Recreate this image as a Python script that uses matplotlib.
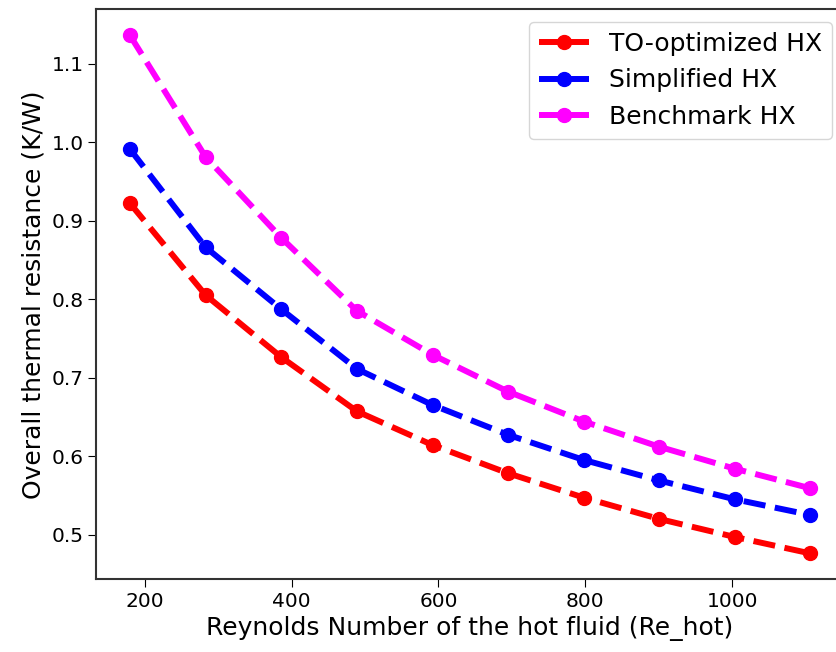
import matplotlib
matplotlib.use('Agg')
import matplotlib.pyplot as plt

# Reynolds number of the hot fluid
re_hot = [180, 283, 386, 489, 592, 695, 798, 900, 1003, 1106]

# Overall thermal resistance (K/W)
r_to_opt = [0.922, 0.805, 0.726, 0.657, 0.614, 0.578, 0.547, 0.520, 0.497, 0.476]
r_simplified = [0.991, 0.866, 0.787, 0.711, 0.665, 0.627, 0.595, 0.569, 0.545, 0.525]
r_benchmark = [1.136, 0.981, 0.878, 0.785, 0.729, 0.682, 0.644, 0.612, 0.584, 0.559]

SERIES = [
    ('TO-optimized HX', r_to_opt, 'red'),
    ('Simplified HX', r_simplified, 'blue'),
    ('Benchmark HX', r_benchmark, 'magenta'),
]

fig = plt.figure(figsize=(8.36, 6.52), dpi=100)
# axes run past the right edge, like the cropped original
ax = fig.add_axes([0.1148, 0.1115, 0.895, 0.874])

for label, vals, color in SERIES:
    ax.plot(re_hot, vals, linestyle='--', marker='o', color=color,
            linewidth=4.3, markersize=10, label=label)

ax.set_xlabel('Reynolds Number of the hot fluid (Re_hot)', fontsize=18)
ax.set_ylabel('Overall thermal resistance (K/W)', fontsize=18)
ax.set_xticks([200, 400, 600, 800, 1000])
ax.tick_params(labelsize=14.5, length=5.5)
for sp in ax.spines.values():
    sp.set_color('#333333')
    sp.set_linewidth(1.5)

ax.legend(loc='upper right', fontsize=18)

fig.savefig('out.png', dpi=100)
